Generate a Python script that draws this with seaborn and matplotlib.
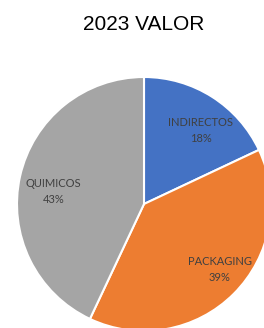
import matplotlib
matplotlib.use("Agg")
import matplotlib.pyplot as plt
import seaborn as sns

# Category shares for 2023 (value)
categories = ['INDIRECTOS', 'PACKAGING', 'QUIMICOS']
shares = [18, 39, 43]
colors = ['#4472C4', '#ED7D31', '#A5A5A5']

sns.set_style('white')
plt.rcParams['font.family'] = ['Liberation Sans', 'DejaVu Sans']

fig = plt.figure(figsize=(2.64, 3.28), dpi=100)
# pie center ~ (144, 204) px, radius ~127 px; it runs off the right and bottom edges
ax = fig.add_axes([17 / 264, -3 / 328, 254 / 264, 254 / 328])

labels_iter = iter(categories)


def fmt(pct):
    return f"{next(labels_iter)}\n{pct:.0f}%"


wedges, texts, autotexts = ax.pie(
    shares, colors=colors, startangle=90, counterclock=False,
    autopct=fmt, pctdistance=0.76,
    wedgeprops=dict(edgecolor='white', linewidth=1.5),
    textprops=dict(color='#404040', fontsize=8, family=['Lato', 'DejaVu Sans'],
                   linespacing=1.55))

# nudge labels to where Excel's best-fit put them
nudges = [(0.04, -0.065), (0.06, 0.02), (0.03, -0.065)]
for t, (dx, dy) in zip(autotexts, nudges):
    x, y = t.get_position()
    t.set_position((x + dx, y + dy))

ax.set_xlim(-1, 1)
ax.set_ylim(-1, 1)
ax.set_aspect('equal')
ax.axis('off')

fig.text(144 / 264, 1 - 25 / 328, '2023 VALOR', ha='center', va='center',
         fontsize=15, color='black')

fig.savefig('out.png', dpi=100)
